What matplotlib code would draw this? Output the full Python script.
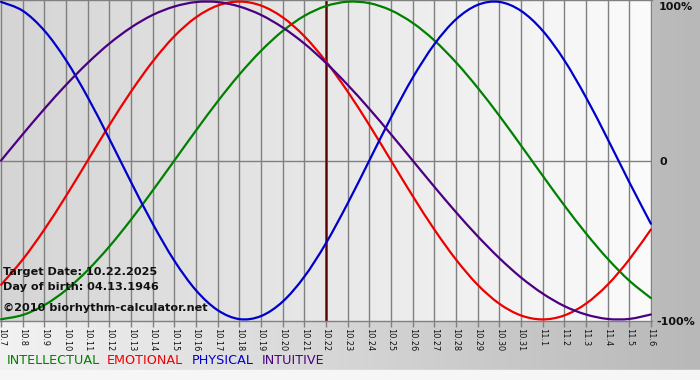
import matplotlib
matplotlib.use("Agg")
import matplotlib.pyplot as plt
import numpy as np
from matplotlib.colors import LinearSegmentedColormap
from matplotlib.path import Path
from matplotlib.patches import PathPatch

# ---------------- data ----------------
dates = ["10.7", "10.8", "10.9", "10.10", "10.11", "10.12", "10.13", "10.14",
         "10.15", "10.16", "10.17", "10.18", "10.19", "10.20", "10.21", "10.22",
         "10.23", "10.24", "10.25", "10.26", "10.27", "10.28", "10.29", "10.30",
         "10.31", "11.1", "11.2", "11.3", "11.4", "11.5", "11.6"]
intellectual = [-0.999, -0.972, -0.910, -0.815, -0.690, -0.541, -0.372, -0.189, 0.000, 0.189,
                0.372, 0.541, 0.690, 0.815, 0.910, 0.972, 0.999, 0.990, 0.945, 0.866,
                0.756, 0.618, 0.458, 0.282, 0.095, -0.095, -0.282, -0.458, -0.618, -0.756, -0.866]
emotional = [-0.782, -0.623, -0.434, -0.223, 0.000, 0.223, 0.434, 0.623, 0.782, 0.901,
             0.975, 1.000, 0.975, 0.901, 0.782, 0.623, 0.434, 0.223, 0.000, -0.223,
             -0.434, -0.623, -0.782, -0.901, -0.975, -1.000, -0.975, -0.901, -0.782, -0.623, -0.434]
physical = [0.998, 0.942, 0.817, 0.631, 0.398, 0.136, -0.136, -0.398, -0.631, -0.817,
            -0.942, -0.998, -0.979, -0.888, -0.731, -0.520, -0.270, 0.000, 0.270, 0.520,
            0.731, 0.888, 0.979, 0.998, 0.942, 0.817, 0.631, 0.398, 0.136, -0.136, -0.398]
intuitive = [0.000, 0.165, 0.325, 0.476, 0.614, 0.736, 0.837, 0.916, 0.969, 0.997,
             0.997, 0.969, 0.916, 0.837, 0.736, 0.614, 0.476, 0.325, 0.165, 0.000,
             -0.165, -0.325, -0.476, -0.614, -0.736, -0.837, -0.916, -0.969, -0.997, -0.997, -0.969]
target_date = "10.22"
series_names = ["INTELLECTUAL", "EMOTIONAL", "PHYSICAL", "INTUITIVE"]
y_labels = ["100%", "0", "-100%"]
info_lines = ["Target Date: 10.22.2025", "Day of birth: 04.13.1946",
              "\u00a92010 biorhythm-calculator.net"]

# ---------------- figure ----------------
W, H = 700, 380
fig = plt.figure(figsize=(W / 100, H / 100), dpi=100)


def px(x, y):
    return x / W, 1 - y / H


def smooth_path(xs, ys):
    """Bezier path passing through every data point (Catmull-Rom style)."""
    pts = np.column_stack([xs, ys]).astype(float)
    ext = np.vstack([pts[0], pts, pts[-1]])
    verts = [tuple(pts[0])]
    codes = [Path.MOVETO]
    for i in range(len(pts) - 1):
        p0, p1, p2, p3 = ext[i], ext[i + 1], ext[i + 2], ext[i + 3]
        c1 = p1 + (p2 - p0) / 6.0
        c2 = p2 - (p3 - p1) / 6.0
        verts += [tuple(c1), tuple(c2), tuple(p2)]
        codes += [Path.CURVE4] * 3
    return Path(verts, codes)


# background of the whole picture
bg = fig.add_axes([0, 0, 1, 1], zorder=-10)
bg.set_axis_off()
grad = np.linspace(0, 1, 256)[None, :]
cm_out = LinearSegmentedColormap.from_list("out", ["#f2f2f2", "#b8b8b8"])
bg.imshow(grad, cmap=cm_out, aspect="auto", extent=[0, 1, 10 / H, 1])
bg.axhspan(0, 10 / H, color="#f6f6f6")
bg.set_xlim(0, 1)
bg.set_ylim(0, 1)

# main plotting area
ax = fig.add_axes([0, 59 / H, 652 / W, 321 / H])
x = np.arange(len(dates))
xmin, xmax = -0.05, len(dates) - 1 + 0.05
ymin, ymax = -1.01, 1.01
cm_in = LinearSegmentedColormap.from_list("in", ["#d5d5d5", "#fbfbfb"])
ax.imshow(grad, cmap=cm_in, aspect="auto", extent=[xmin, xmax, ymin, ymax], zorder=0)

ax.set_xticks(x)
ax.set_xticklabels(dates)
ax.set_yticks([])
ax.grid(axis="x", color="#808080", lw=1.0, zorder=1)
ax.axhline(0, color="#808080", lw=1.0, zorder=1)
ax.tick_params(axis="x", length=4, width=1, color="#808080", labelsize=5.9,
               labelrotation=270, pad=1, labelcolor="#111111")
for lab in ax.get_xticklabels():
    lab.set_va("top")
    lab.set_ha("center")
for s in ["left", "right"]:
    ax.spines[s].set_visible(False)
for s in ["top", "bottom"]:
    ax.spines[s].set_color("#808080")
    ax.spines[s].set_linewidth(1.0)

# target date marker
ti = dates.index(target_date)
ax.axvline(x[ti], color="#b83030", lw=2.0, zorder=2)
ax.axvline(x[ti], color="#5a0000", lw=1.0, zorder=2)

colors = ["#008000", "#ee0000", "#0000cc", "#4b0082"]
for vals, c in zip([intellectual, emotional, physical, intuitive], colors):
    ax.add_patch(PathPatch(smooth_path(x, vals), facecolor="none", edgecolor=c,
                           lw=1.6, zorder=3, capstyle="round", joinstyle="round"))

ax.set_xlim(xmin, xmax)
ax.set_ylim(ymin, ymax)

# right-hand value labels
for lab, (lx, ly) in zip(y_labels, [(659, 7), (660, 162), (656, 322)]):
    fig.text(*px(lx, ly), lab, fontsize=8, weight="bold", color="#111111",
             ha="left", va="center")

# information text
for line, ly in zip(info_lines, [272, 287, 308]):
    fig.text(*px(3, ly), line, fontsize=8.1, weight="bold", color="#111111",
             ha="left", va="center")

# legend
for name, c, lx in zip(series_names, colors, [7, 107, 192, 262]):
    fig.text(*px(lx, 361), name, fontsize=9.2, color=c, ha="left", va="center")

fig.savefig("out.png", dpi=100)
